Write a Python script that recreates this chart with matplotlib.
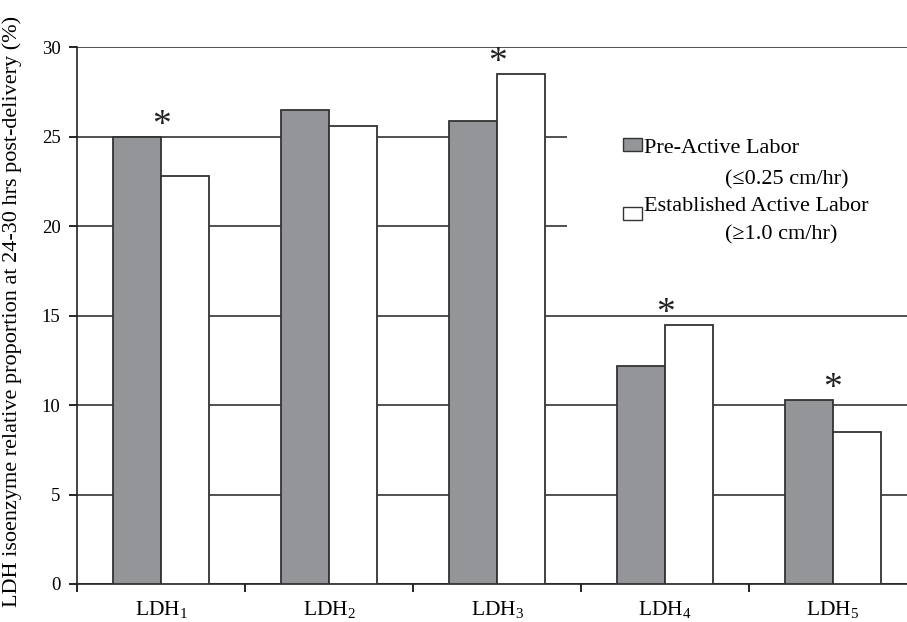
import matplotlib
matplotlib.use('Agg')
import matplotlib.pyplot as plt
from matplotlib.patches import Rectangle
import numpy as np

# values
isoenzymes = ['LDH$_\\mathrm{1}$', 'LDH$_\\mathrm{2}$', 'LDH$_\\mathrm{3}$',
              'LDH$_\\mathrm{4}$', 'LDH$_\\mathrm{5}$']
pre_active = [25.0, 26.5, 25.9, 12.2, 10.3]
established = [22.8, 25.6, 28.5, 14.5, 8.5]
significant = [True, False, True, True, True]

legend_lines = [('Pre-Active Labor', '(≤0.25 cm/hr)'),
                ('Established Active Labor', '(≥1.0 cm/hr)')]

plt.rcParams['font.family'] = ['Liberation Serif', 'DejaVu Serif']
plt.rcParams['mathtext.fontset'] = 'custom'
plt.rcParams['mathtext.rm'] = 'Liberation Serif'
plt.rcParams['mathtext.it'] = 'Liberation Serif:italic'


def plot_ldh(path):
    W, H = 907, 622
    fig = plt.figure(figsize=(W / 100, H / 100), dpi=100)
    left, right, bottom, top = 77.3, 917.0, 584.0, 47.3
    ax = fig.add_axes([left / W, (H - bottom) / H, (right - left) / W, (bottom - top) / H])

    x = np.arange(len(isoenzymes))
    w = 0.286
    ax.bar(x - w / 2, pre_active, w, color='#939598', edgecolor='#333333',
           linewidth=1.3, zorder=3)
    ax.bar(x + w / 2, established, w, color='white', edgecolor='#333333',
           linewidth=1.3, zorder=3)

    # significance marks above each group
    for xi, a, b, s in zip(x, pre_active, established, significant):
        if s:
            ax.text(xi, max(a, b) - 0.34, '*', ha='center', va='bottom',
                    fontsize=27, color='#222222', zorder=4)

    ax.set_xlim(-0.5, len(isoenzymes) - 0.5)
    ax.set_ylim(0, 30)
    ax.set_yticks(np.arange(0, 31, 5))
    ax.set_xticks(np.arange(len(isoenzymes) + 1) - 0.5)
    ax.set_xticklabels([])
    ax.set_xticks(x, minor=True)
    ax.set_xticklabels(isoenzymes, minor=True)
    ax.tick_params(axis='x', which='minor', length=0, pad=11, labelsize=15.5)
    ax.tick_params(axis='x', which='major', length=6, width=1.2, direction='out')
    ax.tick_params(axis='y', length=6, width=1.2, direction='out', labelsize=13.5, pad=6)

    ax.grid(axis='y', color='#333333', linewidth=1.2, zorder=0)
    ax.set_axisbelow(True)
    for side in ['top', 'right']:
        ax.spines[side].set_visible(False)
    for side in ['left', 'bottom']:
        ax.spines[side].set_linewidth(1.2)
        ax.spines[side].set_color('#222222')

    fig.text(12 / W, 1 - 311 / H,
             'LDH isoenzyme relative proportion at 24-30 hrs post-delivery (%)',
             rotation=90, ha='center', va='center', fontsize=16)

    # legend drawn by hand so that the second line can hang indented
    def fx(px):
        return (px - left) / (right - left)

    def fy(py):
        return (bottom - py) / (bottom - top)

    ax.add_patch(Rectangle((fx(567), fy(262)), 1.0, fy(100) - fy(262),
                           transform=ax.transAxes, facecolor='white',
                           edgecolor='none', zorder=2))
    for (first, second), color, ytop, base1, base2 in zip(
            legend_lines, ['#939598', 'white'], [138, 207], [153, 211], [184, 239]):
        ax.add_patch(Rectangle((fx(623), fy(ytop + 13)), fx(642) - fx(623),
                               fy(ytop) - fy(ytop + 13), transform=ax.transAxes,
                               facecolor=color, edgecolor='#333333', linewidth=1.0,
                               zorder=5))
        ax.text(fx(644), fy(base1), first, transform=ax.transAxes, fontsize=16,
                va='baseline', ha='left', zorder=5)
        ax.text(fx(725), fy(base2), second, transform=ax.transAxes, fontsize=16,
                va='baseline', ha='left', zorder=5)

    fig.savefig(path, dpi=100)


if __name__ == '__main__':
    plot_ldh('out.png')
